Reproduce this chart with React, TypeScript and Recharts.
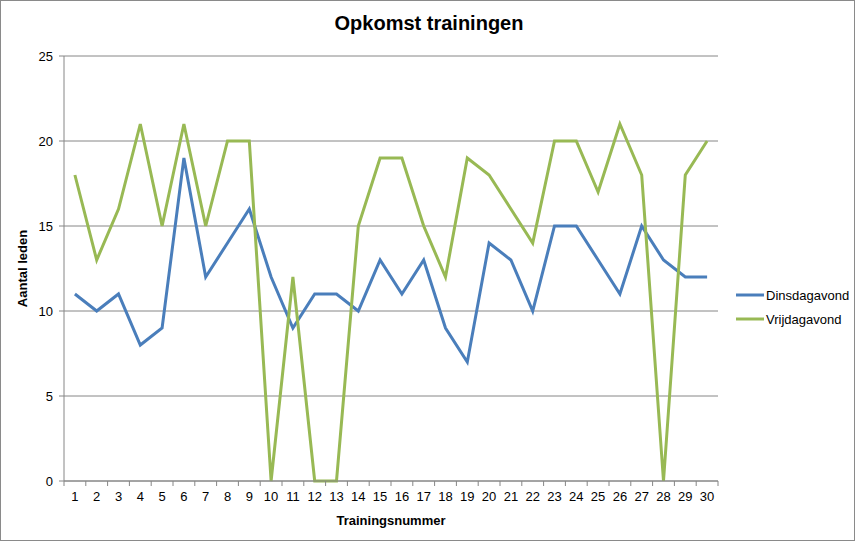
import React from "react";
import { LineChart, Line, XAxis, YAxis, CartesianGrid, Legend } from "recharts";

const trainingen = [
  1, 2, 3, 4, 5, 6, 7, 8, 9, 10, 11, 12, 13, 14, 15, 16, 17, 18, 19, 20, 21, 22, 23, 24, 25, 26, 27, 28, 29, 30,
];
const dinsdag = [11, 10, 11, 8, 9, 19, 12, 14, 16, 12, 9, 11, 11, 10, 13, 11, 13, 9, 7, 14, 13, 10, 15, 15, 13, 11, 15, 13, 12, 12];
const vrijdag = [18, 13, 16, 21, 15, 21, 15, 20, 20, 0, 12, 0, 0, 15, 19, 19, 15, 12, 19, 18, 16, 14, 20, 20, 17, 21, 18, 0, 18, 20];
const yTicks = [0, 5, 10, 15, 20, 25];

const data = trainingen.map((nr, i) => ({
  nr,
  Dinsdagavond: dinsdag[i],
  Vrijdagavond: vrijdag[i],
}));

// tick marks sit between the categories, like the spreadsheet chart
const grenzen = [trainingen[0] - 0.5, ...trainingen.map((n) => n + 0.5)];
const domein: [number, number] = [grenzen[0], grenzen[grenzen.length - 1]];

const BLAUW = "#4A7EBB";
const GROEN = "#98B954";
const AS = "#868686";
const FONT = "'Liberation Sans', Arial, sans-serif";

const series = [
  { key: "Dinsdagavond", color: BLAUW },
  { key: "Vrijdagavond", color: GROEN },
];

function LegendContent() {
  return (
    <div style={{ fontFamily: FONT, fontSize: 13, color: "#000" }}>
      {series.map((s) => (
        <div key={s.key} style={{ display: "flex", alignItems: "center", height: 24 }}>
          <svg width={28} height={6} style={{ marginRight: 2 }}>
            <line x1={0} y1={3} x2={28} y2={3} stroke={s.color} strokeWidth={3} />
          </svg>
          <span>{s.key}</span>
        </div>
      ))}
    </div>
  );
}

const GeenLabel = () => <g />;

export default function App() {
  return (
    <div style={{ position: "absolute", left: 0, top: 0, width: 858, height: 544, background: "#fff" }}>
      <div
        style={{
          position: "absolute",
          left: 0,
          top: 0,
          width: 853,
          height: 539,
          border: "1.5px solid #8a8a8a",
        }}
      />
      <div
        style={{
          position: "absolute",
          left: 0,
          top: 12,
          width: 858,
          textAlign: "center",
          fontFamily: FONT,
          fontWeight: "bold",
          fontSize: 20,
          color: "#000",
        }}
      >
        Opkomst trainingen
      </div>
      <div
        style={{
          position: "absolute",
          left: 0,
          top: 0,
          width: 858,
          height: 544,
        }}
      >
        <LineChart width={858} height={544} data={data} margin={{ top: 56, right: 20, bottom: 33, left: 0 }}>
          <CartesianGrid vertical={false} stroke={AS} strokeWidth={1} />
          <XAxis
            type="number"
            dataKey="nr"
            domain={domein}
            ticks={grenzen}
            interval={0}
            tick={GeenLabel}
            height={1}
            stroke={AS}
            tickSize={5}
            allowDataOverflow
          />
          <XAxis
            xAxisId="label"
            type="number"
            dataKey="nr"
            domain={domein}
            ticks={trainingen}
            interval={0}
            height={29}
            axisLine={false}
            tickLine={false}
            tick={{ fill: "#000", fontSize: 13, fontFamily: FONT }}
            tickMargin={4}
            label={{
              value: "Trainingsnummer",
              position: "insideBottom",
              offset: -14,
              fill: "#000",
              fontSize: 13,
              fontWeight: "bold",
              fontFamily: FONT,
            }}
          />
          <YAxis
            domain={[0, 25]}
            ticks={yTicks}
            width={64}
            stroke={AS}
            tickSize={5}
            tick={{ fill: "#000", fontSize: 13, fontFamily: FONT }}
            tickMargin={6}
            label={{
              value: "Aantal leden",
              angle: -90,
              position: "insideLeft",
              offset: 22,
              style: { textAnchor: "middle" },
              fill: "#000",
              fontSize: 13,
              fontWeight: "bold",
              fontFamily: FONT,
            }}
          />
          <Legend
            layout="vertical"
            align="right"
            verticalAlign="middle"
            content={<LegendContent />}
            wrapperStyle={{ left: 736, top: 283, width: 120 }}
          />
          {series.map((s) => (
            <Line
              key={s.key}
              dataKey={s.key}
              stroke={s.color}
              strokeWidth={3}
              dot={false}
              activeDot={false}
              isAnimationActive={false}
              strokeLinejoin="miter"
            />
          ))}
        </LineChart>
      </div>
    </div>
  );
}
